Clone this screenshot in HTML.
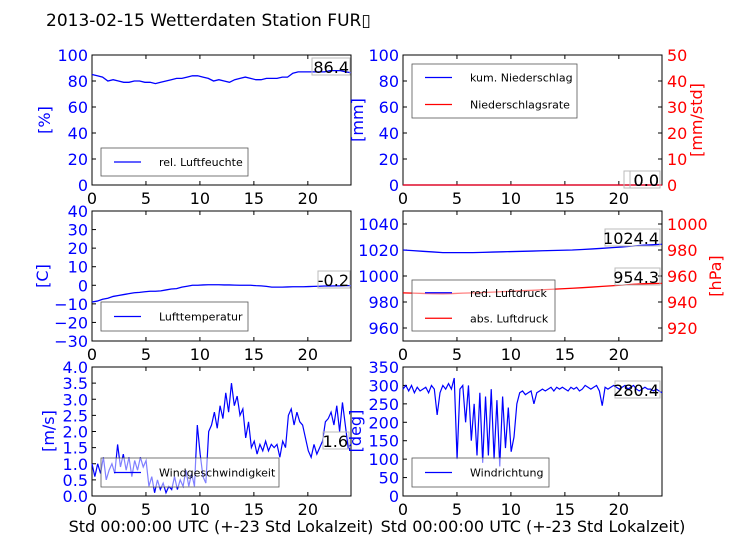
<!DOCTYPE html>
<html><head><meta charset="utf-8"><style>
body{margin:0;background:#fff;width:736px;height:552px;overflow:hidden}
svg text{font-family:"DejaVu Sans","Liberation Sans",sans-serif}
</style></head><body>
<svg id="c" width="736" height="552" xmlns="http://www.w3.org/2000/svg"></svg>
<script>
// ---- data ----
const humidity=[85,84,83,80,81,80,79,79,80,80,79,79,78,79,80,81,82,82,83,84,84,83,82,80,81,80,79,81,82,83,82,81,81,82,82,82,83,83,86,87,87,87,87,87,87,88,88,88,87,86.4];
const temperature=[-9,-8.5,-7.5,-7,-6,-5.5,-5,-4.5,-4,-3.8,-3.5,-3.2,-3.2,-3,-2.5,-2,-1.8,-1,-0.5,0,0,0.2,0.3,0.3,0.3,0.2,0.2,0.1,0,0,0,-0.2,-0.3,-0.6,-1,-1,-1,-0.9,-0.8,-0.8,-0.8,-0.7,-0.6,-0.5,-0.4,-0.4,-0.3,-0.3,-0.2,-0.2];
const rainTotal=[0,0,0,0,0,0,0,0,0,0,0,0,0];
const rainRate=[0,0,0,0,0,0,0,0,0,0,0,0,0];
const pressureRed=[1020,1019.5,1019,1018.5,1018,1018,1018,1018,1018.2,1018.4,1018.6,1018.8,1019,1019.2,1019.4,1019.6,1019.8,1020,1020.4,1020.8,1021.3,1021.8,1022.3,1023,1023.6,1024,1024.4];
const pressureAbs=[947,946.8,946.6,946.4,946.3,946.5,946.8,947,947.3,947.6,948,948.3,948.7,949,949.4,949.8,950.2,950.6,951,951.5,952,952.5,953,953.5,954,954.2,954.3];
const windSpeed=[1,0.6,1.0,0.7,1.2,0.5,0.8,1.0,0.7,1.6,0.9,1.3,0.8,1.2,0.6,1.1,0.8,1.2,0.9,1.1,0.3,0.6,0.1,0.5,0.2,0.4,0.1,0.3,0.2,0.6,0.2,0.5,0.3,0.8,0.3,0.7,0.3,2.2,1.3,0.6,0.4,2.0,2.2,2.6,2.1,2.8,2.4,3.2,2.6,3.5,2.8,3.1,2.5,2.7,1.8,2.3,1.5,1.7,1.3,1.6,1.4,1.7,1.4,1.6,1.5,1.6,1.2,1.7,1.5,2.5,2.7,2.2,2.6,2.3,2.2,1.8,1.4,1.2,1.6,1.3,1.5,1.7,2.3,2.4,2.6,2.2,2.8,2.0,2.9,2.2,1.5,1.6];
const windDir=[290,300,285,300,280,295,285,290,295,280,300,290,220,280,300,290,305,290,320,100,290,300,200,300,150,250,110,280,90,270,110,290,100,260,80,270,130,240,120,160,250,280,285,275,280,285,250,280,285,290,285,290,295,285,295,290,295,290,285,295,290,295,285,290,300,295,290,295,300,285,245,295,290,295,300,295,290,295,300,290,295,300,290,285,290,295,290,290,285,290,285,280];
const xTicks=[0,5,10,15,20];
const humTicks=[0,20,40,60,80,100];
const rainTicks=[0,20,40,60,80,100];
const rainRateTicks=[0,10,20,30,40,50];
const tempTicks=[-30,-20,-10,0,10,20,30,40];
const presTicks=[960,980,1000,1020,1040];
const presAbsTicks=[920,940,960,980,1000];
const windTicks=[0,0.5,1,1.5,2,2.5,3,3.5,4];
const dirTicks=[0,50,100,150,200,250,300,350];
// ---- drawing ----
const S=document.getElementById('c'),NS='http://www.w3.org/2000/svg';
function el(t,a,p){const e=document.createElementNS(NS,t);for(const k in a)e.setAttribute(k,a[k]);(p||S).appendChild(e);return e}
function txt(x,y,s,a,name){const e=el('text',Object.assign({x:x,y:y},a));e.textContent=s;

return e}
const L=[92,351],R=[403,662],rows=[[55,185],[211,341],[367,496]];
function axis(xr,yr,min,max){return{x:t=>xr[0]+(t/24)*(xr[1]-xr[0]),y:v=>yr[1]-(v-min)/(max-min)*(yr[1]-yr[0])}}
function frame(xr,yr,name){
 const g=el('g',{});
 
 
 el('rect',{x:xr[0],y:yr[0],width:xr[1]-xr[0],height:yr[1]-yr[0],fill:'#fff',stroke:'#000','stroke-width':1},g);
 const a=axis(xr,yr,0,1);
 xTicks.forEach(t=>{const x=a.x(t);el('line',{x1:x,x2:x,y1:yr[1],y2:yr[1]-4,stroke:'#000'},g);el('line',{x1:x,x2:x,y1:yr[0],y2:yr[0]+4,stroke:'#000'},g);
  const tl=txt(x,yr[1]+19,String(t),{'font-size':16,'text-anchor':'middle',fill:'#000'},'x-tick-label');g.appendChild(tl)});
 return g}
function yticks(g,ax,xr,ticks,side,color,fmt){ticks.forEach(v=>{const y=ax.y(v);
 const x0=side=='l'?xr[0]:xr[1],d=side=='l'?4:-4;
 el('line',{x1:x0,x2:x0+d,y1:y,y2:y,stroke:'#000'},g);
 const t=txt(side=='l'?xr[0]-4:xr[1]+5,y+6,fmt?fmt(v):String(v).replace('-','\u2212'),{'font-size':16,'text-anchor':side=='l'?'end':'start',fill:color},'y-tick-label');g.appendChild(t)})}
function line(g,ax,data,color,name,w){const n=data.length;const pts=data.map((v,i)=>ax.x(i*24/(n-1))+','+ax.y(v)).join(' ');
 const p=el('polyline',{points:pts,fill:'none',stroke:color,'stroke-width':w||1.3},g);
 
 }
function legend(g,x,y,w,h,items,name){const lg=el('g',{},g);
 
 
 el('rect',{x:x,y:y,width:w,height:h,fill:'rgba(255,255,255,0.5)',stroke:'#555','stroke-width':0.8},lg);
 items.forEach((it,i)=>{const cy=y+(h/(items.length))*(i+0.5);
  el('line',{x1:x+13,x2:x+40,y1:cy,y2:cy,stroke:it[1],'stroke-width':1.3},lg);
  lg.appendChild(txt(x+58,cy+4,it[0],{'font-size':11,fill:'#000'},'legend-label'))})}
function valbox(g,x,y,w,s,name){const b=el('rect',{x:x,y:y,width:w,height:17,fill:'none',stroke:'#bbb'},g);
 g.appendChild(txt(x+w-1,y+15,s,{'font-size':16,'text-anchor':'end',fill:'#000'},name))}
function ylab(x,y,s,c,name){txt(x,y,s,{'font-size':16,fill:c,'text-anchor':'middle',transform:'rotate(-90 '+x+' '+y+')'},name)}
txt(46,26,'2013-02-15 Wetterdaten Station FUR\u25AF',{'font-size':17,fill:'#000'},'chart-title');
// panel 1 humidity
let g=frame(L,rows[0],'humidity-panel');let a=axis(L,rows[0],0,100);
yticks(g,a,L,humTicks,'l','#00f');line(g,a,humidity,'#00f','humidity-line');
legend(g,101,148,147,28,[['rel. Luftfeuchte','#00f']],'humidity-legend');valbox(g,312,58,38,'86.4','humidity-value');
ylab(50,120,'[%]','#00f','humidity-axis-title');
// panel 2 rain
g=frame(R,rows[0],'rain-panel');a=axis(R,rows[0],0,100);let a2=axis(R,rows[0],0,50);
yticks(g,a,R,rainTicks,'l','#00f');yticks(g,a2,R,rainRateTicks,'r','#f00');
line(g,a,rainTotal,'#00f','rain-total-line');line(g,a2,rainRate,'#f00','rain-rate-line');
legend(g,412,64,165,54,[['kum. Niederschlag','#00f'],['Niederschlagsrate','#f00']],'rain-legend');
valbox(g,624,171,36,'0.0','rain-total-value');valbox(g,630,171,30,'0.0','rain-rate-value');
ylab(363,120,'[mm]','#00f','rain-axis-title');ylab(702,120,'[mm/std]','#f00','rain-rate-axis-title');
// panel 3 temperature
g=frame(L,rows[1],'temperature-panel');a=axis(L,rows[1],-30,40);
yticks(g,a,L,tempTicks,'l','#00f');line(g,a,temperature,'#00f','temperature-line');
legend(g,101,302,147,29,[['Lufttemperatur','#00f']],'temperature-legend');valbox(g,318,271,32,'-0.2','temperature-value');
ylab(48,276,'[C]','#00f','temperature-axis-title');
// panel 4 pressure
g=frame(R,rows[1],'pressure-panel');a=axis(R,rows[1],950,1050);a2=axis(R,rows[1],910,1010);
yticks(g,a,R,presTicks,'l','#00f');yticks(g,a2,R,presAbsTicks,'r','#f00');
line(g,a,pressureRed,'#00f','pressure-reduced-line');line(g,a2,pressureAbs,'#f00','pressure-absolute-line');
legend(g,412,280,143,51,[['red. Luftdruck','#00f'],['abs. Luftdruck','#f00']],'pressure-legend');
valbox(g,605,229,55,'1024.4','pressure-reduced-value');valbox(g,615,268,45,'954.3','pressure-absolute-value');
ylab(721,276,'[hPa]','#f00','pressure-axis-title');
// panel 5 wind speed
g=frame(L,rows[2],'wind-speed-panel');a=axis(L,rows[2],0,4);
yticks(g,a,L,windTicks,'l','#00f',v=>v.toFixed(1));
line(g,a,windSpeed,'#00f','wind-speed-line',1.2);
legend(g,101,458,178,29,[['Windgeschwindigkeit','#00f']],'wind-speed-legend');
valbox(g,323,432,26,'1.6','wind-speed-value');
ylab(54,431,'[m/s]','#00f','wind-speed-axis-title');ylab(361,431,'[deg]','#00f','wind-direction-axis-title');
// panel 6 wind direction
g=frame(R,rows[2],'wind-direction-panel');a=axis(R,rows[2],0,350);
yticks(g,a,R,dirTicks,'l','#00f');line(g,a,windDir,'#00f','wind-direction-line',1.2);
legend(g,412,458,137,29,[['Windrichtung','#00f']],'wind-direction-legend');
valbox(g,615,381,45,'280.4','wind-direction-value');
txt(221,532,'Std 00:00:00 UTC (+-23 Std Lokalzeit)',{'font-size':16,'text-anchor':'middle',fill:'#000'},'x-axis-title-left');
txt(533,532,'Std 00:00:00 UTC (+-23 Std Lokalzeit)',{'font-size':16,'text-anchor':'middle',fill:'#000'},'x-axis-title-right');
</script>
</body></html>
